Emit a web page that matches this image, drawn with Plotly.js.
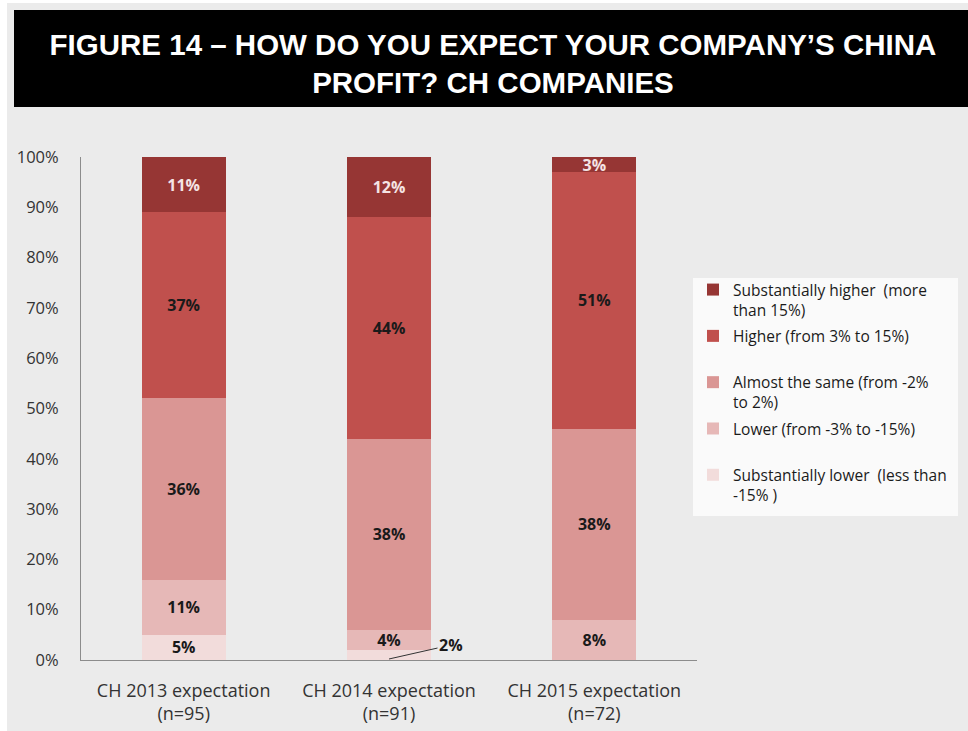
<!DOCTYPE html>
<html>
<head>
<meta charset="utf-8">
<script src="https://cdn.plot.ly/plotly-3.0.1.min.js"></script>
<style>
html,body{margin:0;padding:0;background:#ffffff;}
#chart{position:absolute;left:7px;top:3px;width:961px;height:728px;}
</style>
</head>
<body>
<div id="chart"></div>
<script>
// ---- data ----
const categories = ["CH 2013 expectation<br>(n=95)", "CH 2014 expectation<br>(n=91)", "CH 2015 expectation<br>(n=72)"];
const seriesNames = [
  "Substantially lower  (less than<br>-15% )",
  "Lower (from -3% to -15%)<br> ",
  "Almost the same (from -2%<br>to 2%)",
  "Higher (from 3% to 15%)<br> ",
  "Substantially higher  (more<br>than 15%)"
];
const substantiallyLower = [5, 2, 0];
const lower = [11, 4, 8];
const almostSame = [36, 38, 38];
const higher = [37, 44, 51];
const substantiallyHigher = [11, 12, 3];
const yTickVals = [0, 10, 20, 30, 40, 50, 60, 70, 80, 90, 100];
const yTickText = ["0%", "10%", "20%", "30%", "40%", "50%", "60%", "70%", "80%", "90%", "100%"];

const colors = ["#f2dcdb", "#e6b8b7", "#da9694", "#c0504d", "#963634"];
const textColors = ["#1a1a1a", "#1a1a1a", "#1a1a1a", "#1a1a1a", "#f4e4e4"];
const values = [substantiallyLower, lower, almostSame, higher, substantiallyHigher];

const FONT = "'Open Sans', sans-serif";

const traces = values.map((vals, i) => ({
  type: "bar",
  name: seriesNames[i],
  legendgroup: "g" + i,
  legendrank: (values.length - i) * 100,
  x: categories,
  y: vals,
  marker: {color: colors[i], line: {width: 0}},
  text: vals.map(v => v >= 3 ? v + "%" : ""),
  textposition: "inside",
  insidetextanchor: "middle",
  textangle: 0,
  constraintext: "none",
  textfont: {family: FONT, size: 16, color: textColors[i], weight: "bold"},
  hoverinfo: "none"
}));

// small 2014 segment label with leader line
const annotations = [{
  x: 1, y: substantiallyLower[1] / 10, xref: "x", yref: "y",
  text: substantiallyLower[1] + "%",
  showarrow: true, arrowhead: 0, arrowwidth: 1, arrowcolor: "#333333",
  ax: 62, ay: -14,
  font: {family: FONT, size: 16, color: "#1a1a1a", weight: "bold"}
}];

const PW = 616, PH = 503, ML = 74, MB = 71, PB = 657;
const layout = {
  width: 961, height: 728,
  paper_bgcolor: "#ebebeb",
  plot_bgcolor: "#ebebeb",
  margin: {l: ML, r: 271, t: 154, b: MB, pad: 0, autoexpand: false},
  barmode: "stack",
  bargap: 0.59,
  showlegend: true,
  title: {
    text: "FIGURE 14 – HOW DO YOU EXPECT YOUR COMPANY’S CHINA<br>PROFIT? CH COMPANIES",
    font: {family: "'Liberation Sans', Arial, sans-serif", size: 29.5, color: "#ffffff", weight: "bold"},
    xref: "container", yref: "container",
    x: 0.5057, xanchor: "center",
    y: 1 - 52 / 728, yanchor: "middle"
  },
  shapes: [{
    type: "rect", xref: "paper", yref: "paper",
    x0: (7 - ML) / PW, x1: (961 - ML) / PW,
    y0: (PB - 104) / PH, y1: (PB - 7) / PH,
    fillcolor: "#000000", line: {width: 0}, layer: "below"
  }, {
    type: "rect", xref: "paper", yref: "paper",
    x0: (686 - ML) / PW, x1: (951 - ML) / PW,
    y0: (PB - 513) / PH, y1: (PB - 275) / PH,
    fillcolor: "#fafafa", line: {width: 0}, layer: "below"
  }],
  xaxis: {
    type: "category",
    showgrid: false, zeroline: false,
    showline: true, linecolor: "#8c8c8c", linewidth: 1,
    ticks: "", ticklabelstandoff: 14,
    tickfont: {family: FONT, size: 18, color: "#333333"},
    range: [-0.5, 2.5], fixedrange: true
  },
  yaxis: {
    range: [0, 100],
    tickvals: yTickVals,
    ticktext: yTickText,
    showgrid: false, zeroline: false,
    showline: true, linecolor: "#8c8c8c", linewidth: 1,
    ticks: "", ticklabelstandoff: 18,
    tickfont: {family: FONT, size: 16.5, color: "#333333"},
    fixedrange: true
  },
  legend: {
    x: (686 - ML) / PW, xanchor: "left",
    y: (PB - 270) / PH, yanchor: "top",
    bgcolor: "rgba(0,0,0,0)",
    borderwidth: 0,
    traceorder: "grouped",
    tracegroupgap: 3,
    valign: "top",
    itemwidth: 30,
    font: {family: FONT, size: 15.5, color: "#1a1a1a"}
  },
  uniformtext: {mode: "show", minsize: 16},
  annotations: annotations
};

Plotly.newPlot("chart", traces, layout, {displayModeBar: false, staticPlot: true});
</script>
</body>
</html>
